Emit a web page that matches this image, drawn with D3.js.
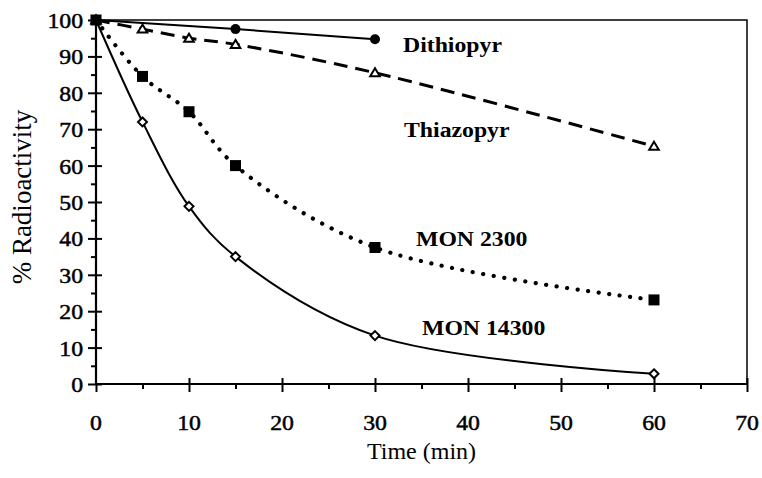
<!DOCTYPE html>
<html>
<head>
<meta charset="utf-8">
<script src="https://cdn.jsdelivr.net/npm/d3@7"></script>
<style>
html,body{margin:0;padding:0;background:#fff;}
svg{display:block;}
text{font-family:"Liberation Serif","Times New Roman",serif;fill:#000;}
</style>
</head>
<body>
<svg id="chart" width="762" height="478"></svg>
<script>
// ---- data ----
const xTickValues = [0, 10, 20, 30, 40, 50, 60, 70];
const yTickValues = [0, 10, 20, 30, 40, 50, 60, 70, 80, 90, 100];
const timeDithiopyr = [0, 15, 30];
const dithiopyr = [100, 97.5, 94.7];
const time = [0, 5, 10, 15, 30, 60];
const thiazopyr = [100, 97.5, 95, 93.3, 85.5, 65.3];
const mon2300 = [100, 84.5, 74.8, 60, 37.5, 23.1];
const mon14300 = [100, 72, 48.8, 35, 13.3, 2.8];
const seriesNames = ["Dithiopyr", "Thiazopyr", "MON 2300", "MON 14300"];
const xTitle = "Time (min)";
const yTitle = "% Radioactivity";

// ---- layout ----
const svg = d3.select("#chart");
const x = d3.scaleLinear().domain([0, 70]).range([96, 747]);
const y = d3.scaleLinear().domain([0, 100]).range([384, 20]);
const SX = 1.08;

// frame (top & right)
svg.append("path")
  .attr("d", `M${x(0)},${y(100)}H${x(70)}V${y(0)}`)
  .attr("fill", "none").attr("stroke", "#000").attr("stroke-width", 1.5);

function axisStyle(g){ g.select(".domain").remove(); g.selectAll(".tick line").attr("stroke","#000").attr("stroke-width",2); g.selectAll("text").remove(); }
// y axis: major crossing, minor outside
svg.append("g").attr("transform", `translate(${x(0)},0)`)
  .call(d3.axisLeft(y).tickValues(yTickValues).tickSize(8)).call(axisStyle);
svg.append("g").attr("transform", `translate(${x(0)},0)`)
  .call(d3.axisRight(y).tickValues(yTickValues).tickSize(6)).call(axisStyle);
svg.append("g").attr("transform", `translate(${x(0)},0)`)
  .call(d3.axisLeft(y).tickValues(d3.range(5, 100, 10)).tickSize(5)).call(axisStyle);
// x axis
svg.append("g").attr("transform", `translate(0,${y(0)})`)
  .call(d3.axisBottom(x).tickValues(xTickValues).tickSize(8)).call(axisStyle);
svg.append("g").attr("transform", `translate(0,${y(0)})`)
  .call(d3.axisTop(x).tickValues(xTickValues.slice(1)).tickSize(6)).call(axisStyle);
svg.append("g").attr("transform", `translate(0,${y(0)})`)
  .call(d3.axisBottom(x).tickValues(d3.range(5, 70, 10)).tickSize(5)).call(axisStyle);
svg.append("line").attr("x1", x(0)).attr("x2", x(0)).attr("y1", y(100)).attr("y2", y(0))
  .attr("stroke", "#000").attr("stroke-width", 2.2);
svg.append("line").attr("x1", x(0)).attr("x2", x(70)).attr("y1", y(0)).attr("y2", y(0))
  .attr("stroke", "#000").attr("stroke-width", 2.2);

// tick labels
svg.append("g").selectAll("text").data(yTickValues).join("text")
  .attr("transform", d => `translate(83,${y(d) + 8}) scale(${SX},1)`)
  .attr("text-anchor", "end").attr("font-size", 22)
  .attr("stroke", "#000").attr("stroke-width", 0.5).text(d => d);
svg.append("g").selectAll("text").data(xTickValues).join("text")
  .attr("transform", d => `translate(${x(d)},430) scale(${SX},1)`)
  .attr("text-anchor", "middle").attr("font-size", 22)
  .attr("stroke", "#000").attr("stroke-width", 0.5).text(d => d);

// axis titles
svg.append("text").attr("transform", `translate(${(x(0)+x(70))/2},459)`)
  .attr("text-anchor", "middle").attr("font-size", 24).text(xTitle);
svg.append("text").attr("transform", `translate(31,197) rotate(-90)`)
  .attr("text-anchor", "middle").attr("font-size", 27).text(yTitle);

// ---- series ----
const smooth = d3.line().x(d => x(d[0])).y(d => y(d[1])).curve(d3.curveCatmullRom.alpha(0.5));
const straight = d3.line().x(d => x(d[0])).y(d => y(d[1]));
const pts = (t, v) => t.map((ti, i) => [ti, v[i]]);

const pD = pts(timeDithiopyr, dithiopyr);
const pT = pts(time, thiazopyr);
const p2 = pts(time, mon2300);
const p14 = pts(time, mon14300);

svg.append("path").attr("d", smooth(p14)).attr("fill", "none").attr("stroke", "#000").attr("stroke-width", 2);
svg.append("path").attr("d", smooth(p2)).attr("fill", "none").attr("stroke", "#000").attr("stroke-width", 4.2)
  .attr("stroke-linecap", "round").attr("stroke-dasharray", "0.1 10.5");
svg.append("path").attr("d", smooth(pT)).attr("fill", "none").attr("stroke", "#000").attr("stroke-width", 3)
  .attr("stroke-dasharray", "14 8");
svg.append("path").attr("d", straight(pD)).attr("fill", "none").attr("stroke", "#000").attr("stroke-width", 2);

// markers
svg.append("g").selectAll("path").data(p14).join("path")
  .attr("transform", d => `translate(${x(d[0])},${y(d[1])})`)
  .attr("d", "M0,-4.5L4.5,0L0,4.5L-4.5,0Z").attr("fill", "#fff").attr("stroke", "#000").attr("stroke-width", 2);
svg.append("g").selectAll("path").data(pT).join("path")
  .attr("transform", d => `translate(${x(d[0])},${y(d[1])})`)
  .attr("d", "M0,-4.5L4.8,3.5L-4.8,3.5Z").attr("fill", "#fff").attr("stroke", "#000").attr("stroke-width", 2);
svg.append("g").selectAll("circle").data(pD).join("circle")
  .attr("cx", d => x(d[0])).attr("cy", d => y(d[1])).attr("r", 5).attr("fill", "#000");
svg.append("g").selectAll("rect").data(p2).join("rect")
  .attr("x", d => x(d[0]) - 5.5).attr("y", d => y(d[1]) - 5.5).attr("width", 11).attr("height", 11).attr("fill", "#000");

// series labels
const labelPos = [[403, 52], [404, 137], [416, 246], [422, 335]];
svg.append("g").selectAll("text").data(seriesNames).join("text")
  .attr("transform", (d, i) => `translate(${labelPos[i][0]},${labelPos[i][1]}) scale(${SX},1)`)
  .attr("font-size", 22).attr("font-weight", "bold").text(d => d);
</script>
</body>
</html>
